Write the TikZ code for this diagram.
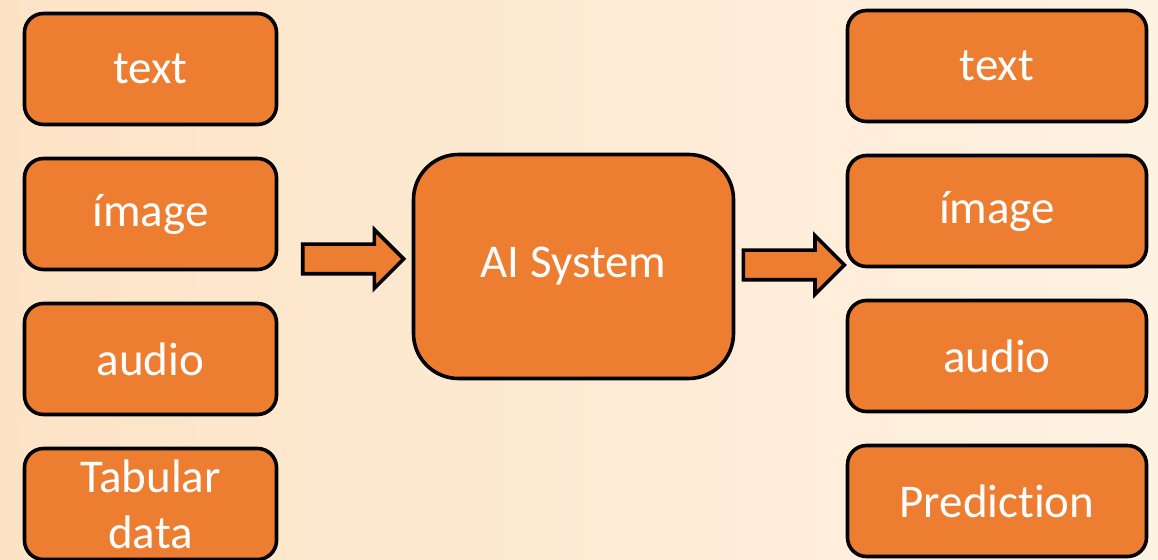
\documentclass[tikz,border=0pt]{standalone}
\usepackage{fontspec}
\setmainfont{Carlito}[Ligatures=NoCommon]
\usetikzlibrary{shapes.arrows}
\definecolor{boxorange}{HTML}{ED7D31}
\definecolor{bgpeach}{HTML}{FDE3C6}
\definecolor{bglight}{HTML}{FEF2E2}

\begin{document}
\begin{tikzpicture}[x=1pt, y=1pt, node distance={145pt}, line width=3.6pt,
    main/.style = {draw, fill=boxorange, rounded corners=19pt, text=white, inner sep=0pt,
        minimum width=252pt, minimum height=111pt, align=center,
        font=\fontsize{47}{56}\selectfont},
    wide/.style = {main, minimum width=299pt},
    core/.style = {main, rounded corners=45pt, minimum width=320pt, minimum height=224pt},
    flow/.style = {draw, fill=boxorange, single arrow, single arrow tip angle=90,
        single arrow head extend=14.5pt, inner xsep=0pt, inner ysep=13pt,
        minimum height=101pt, outer sep=0pt}]
    \useasboundingbox (0,0) rectangle (1158,559);
    \fill[left color=bgpeach, right color=bglight] (0,0) rectangle (1158,559);
    % inputs
    \node[main] (tin) at (150.5,490) {text};
    \node[main] (iin) [below of=tin] {ímage};
    \node[main] (ain) [below of=iin] {audio};
    \node[main] (din) [below of=ain] {Tabular\\data};
    % system
    \node[core] (ai) at (573.5,292.5) {AI System};
    % outputs
    \node[wide] (tout) at (997,493) {text};
    \node[wide] (iout) [below of=tout] {ímage};
    \node[wide] (aout) [below of=iout] {audio};
    \node[wide] (pout) [below of=aout] {Prediction};
    % arrows
    \node[flow, anchor=tip] (into) at ([xshift=-8pt,yshift=7.5pt]ai.west) {};
    \node[flow, anchor=tail] (outof) at ([xshift=8pt,yshift=1.5pt]ai.east) {};
\end{tikzpicture}
\end{document}
